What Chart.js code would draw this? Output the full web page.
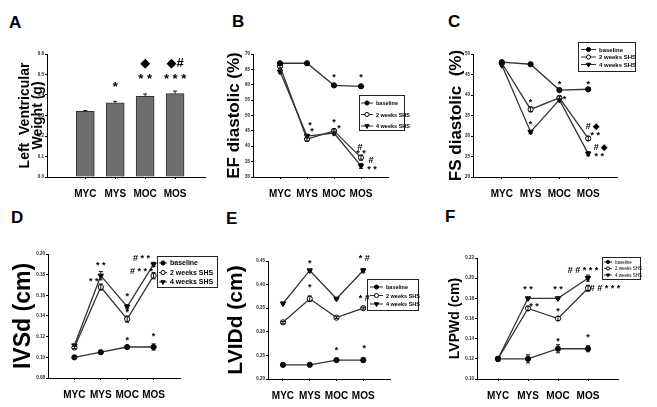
<!DOCTYPE html>
<html>
<head>
<meta charset="utf-8">
<script src="https://cdn.jsdelivr.net/npm/chart.js@4.4.0/dist/chart.umd.min.js"></script>
<style>
  body { margin: 0; background: #fff; width: 657px; height: 407px; position: relative; overflow: hidden;
         font-family: "Liberation Sans", Arial, sans-serif; }
  canvas { position: absolute; }
  .tag { position: absolute; font-weight: bold; font-size: 17px; line-height: 17px; }
</style>
</head>
<body>
<div class="tag" style="left:9px;top:14px">A</div>
<div class="tag" style="left:232px;top:13px">B</div>
<div class="tag" style="left:448px;top:13px">C</div>
<div class="tag" style="left:11px;top:209px">D</div>
<div class="tag" style="left:226px;top:210px">E</div>
<div class="tag" style="left:445px;top:208px">F</div>
<canvas id="cA"></canvas>
<canvas id="cB"></canvas>
<canvas id="cC"></canvas>
<canvas id="cD"></canvas>
<canvas id="cE"></canvas>
<canvas id="cF"></canvas>
<script>
const categories = ['MYC', 'MYS', 'MOC', 'MOS'];
const seriesNames = ['baseline', '2 weeks SHS', '4 weeks SHS'];

// A - left ventricular weight (g)
const lvWeight = [0.32, 0.362, 0.393, 0.407];
const lvWeightErr = [0.004, 0.007, 0.012, 0.012];
const ticksA = ['0.0', '0.1', '0.2', '0.3', '0.4', '0.5', '0.6'];
const notesA = [['*', 1, 0.435, 0], ['* *', 2, 0.474, 0], ['\u25C6', 2, 0.556, 0],
                ['* * *', 3, 0.474, 0], ['\u25C6#', 3, 0.556, 0]];

// B - EF diastolic (%)
const efBase = [67, 67, 59.8, 59.5];
const ef2wk = [66, 42.3, 45, 36.3];
const ef4wk = [64.3, 43.3, 44.3, 33.6];
const efBaseErr = [0.4, 0.3, 0.6, 0.5];
const ef2wkErr = [0.5, 0.6, 0.6, 0.8];
const ef4wkErr = [0.5, 0.6, 0.6, 0.8];
const ticksB = ['30', '35', '40', '45', '50', '55', '60', '65', '70'];
const notesB = [['*', 2, 62.2, 0], ['*', 3, 62.2, 0], ['*', 1, 46.6, 3], ['*', 1, 44.7, 5],
                ['*', 2, 47.7, 0], ['*', 2, 45.8, 5], ['#', 3, 39.5, -1], ['* *', 3, 37.7, 0],
                ['#', 3, 35.2, 10], ['* *', 3, 32.3, 11]];

// C - FS diastolic (%)
const fsBase = [48, 47.5, 41.2, 41.4];
const fs2wk = [47.8, 36.5, 39.3, 29.4];
const fs4wk = [47.3, 31, 38.8, 25.7];
const fsBaseErr = [0.3, 0.3, 0.4, 0.4];
const fs2wkErr = [0.3, 0.6, 0.4, 0.5];
const fs4wkErr = [0.3, 0.4, 0.4, 0.5];
const ticksC = ['20', '25', '30', '35', '40', '45', '50'];
const notesC = [['*', 1, 38.2, 0], ['*', 1, 32.8, 0], ['*', 2, 42.6, 0], ['*', 2, 38.8, 5],
                ['*', 3, 42.6, 0], ['#', 3, 32.3, 0], ['\u25C6', 3, 32.3, 8], ['* *', 3, 30.2, 7],
                ['#', 3, 27.1, 8], ['\u25C6', 3, 27.1, 16], ['* *', 3, 25, 11]];

// D - IVSd (cm)
const ivsBase = [0.100, 0.105, 0.110, 0.110];
const ivs2wk = [0.1095, 0.168, 0.137, 0.179];
const ivs4wk = [0.1115, 0.179, 0.149, 0.190];
const ivsBaseErr = [0.0005, 0.001, 0.0005, 0.003];
const ivs2wkErr = [0.001, 0.003, 0.003, 0.003];
const ivs4wkErr = [0.001, 0.004, 0.002, 0.002];
const ticksD = ['0.08', '0.10', '0.12', '0.14', '0.16', '0.18', '0.20'];
const notesD = [['* *', 1, 0.189, 0], ['* *', 1, 0.1735, -7], ['*', 2, 0.159, 0], ['*', 2, 0.143, 0],
                ['*', 2, 0.1165, 0], ['*', 3, 0.1203, 0], ['# * *', 3, 0.1955, -12],
                ['# * * *', 3, 0.183, -12]];

// E - LVIDd (cm)
const lvidBase = [0.23, 0.23, 0.24, 0.24];
const lvid2wk = [0.32, 0.37, 0.33, 0.35];
const lvid4wk = [0.36, 0.43, 0.37, 0.43];
const lvidBaseErr = [0.003, 0.002, 0.002, 0.005];
const lvid2wkErr = [0.002, 0.006, 0.002, 0.002];
const lvid4wkErr = [0.002, 0.003, 0.002, 0.004];
const ticksE = ['0.20', '0.25', '0.30', '0.35', '0.40', '0.45'];
const notesE = [['*', 1, 0.4445, 0], ['*', 1, 0.393, 0], ['* #', 3, 0.455, 1], ['* #', 3, 0.371, 1],
                ['*', 2, 0.26, 0], ['*', 3, 0.265, 1]];

// F - LVPWd (cm)
const lvpwBase = [0.12, 0.12, 0.13, 0.13];
const lvpw2wk = [0.12, 0.17, 0.16, 0.19];
const lvpw4wk = [0.12, 0.18, 0.18, 0.20];
const lvpwBaseErr = [0.002, 0.004, 0.004, 0.003];
const lvpw2wkErr = [0.002, 0.002, 0.002, 0.003];
const lvpw4wkErr = [0.001, 0.001, 0.001, 0.003];
const ticksF = ['0.10', '0.12', '0.14', '0.16', '0.18', '0.20', '0.22'];
const notesF = [['* *', 1, 0.1888, 0], ['* *', 2, 0.1888, 0], ['* *', 1, 0.172, 6], ['*', 2, 0.1667, 0],
                ['*', 2, 0.137, 0], ['*', 3, 0.141, 0], ['# # * * *', 3, 0.2072, -5],
                ['# # * * *', 3, 0.1898, 17]];

Chart.defaults.font.family = '"Liberation Sans", Arial, sans-serif';
Chart.defaults.color = '#000';

const markers = [
  { style: 'circle', fill: '#000', rot: 0, r: 2.6 },
  { style: 'circle', fill: '#fff', rot: 0, r: 2.6 },
  { style: 'triangle', fill: '#000', rot: 180, r: 3.1 }
];

// error bars, significance marks and the boxed legend
const extras = {
  id: 'extras',
  afterDatasetsDraw(chart, args, opts) {
    const ctx = chart.ctx, xs = chart.scales.x, ys = chart.scales.y;
    ctx.save();
    ctx.strokeStyle = '#111';
    ctx.lineWidth = 1;
    chart.data.datasets.forEach(ds => {
      if (!ds.errors) return;
      ds.data.forEach((p, i) => {
        const e = ds.errors[i];
        if (!e) return;
        const x = xs.getPixelForValue(p.x);
        const y0 = ys.getPixelForValue(p.y - (ds.type === 'bar' ? 0 : e));
        const y1 = ys.getPixelForValue(p.y + e);
        ctx.beginPath();
        ctx.moveTo(x, y0); ctx.lineTo(x, y1);
        ctx.moveTo(x - 2, y1); ctx.lineTo(x + 2, y1);
        if (ds.type !== 'bar') { ctx.moveTo(x - 2, y0); ctx.lineTo(x + 2, y0); }
        ctx.stroke();
      });
    });
    ctx.restore();
  },
  afterDraw(chart, args, opts) {
    const ctx = chart.ctx, xs = chart.scales.x, ys = chart.scales.y;
    ctx.save();
    ctx.fillStyle = '#000';
    ctx.textAlign = 'center';
    ctx.textBaseline = 'middle';
    ctx.font = opts.noteFont;
    (opts.notes || []).forEach(([t, i, v, dx]) => {
      ctx.fillText(t, xs.getPixelForValue(i) + dx, ys.getPixelForValue(v));
    });
    const L = opts.legend;
    if (L) {
      const bx = L.x - opts.origin[0], by = L.y - opts.origin[1];
      ctx.strokeStyle = '#222';
      ctx.lineWidth = 1;
      ctx.strokeRect(Math.round(bx) + 0.5, Math.round(by) + 0.5, L.w, L.h);
      ctx.textAlign = 'left';
      ctx.font = L.font;
      chart.data.datasets.forEach((ds, k) => {
        const y = by + L.row0 + k * L.gap;
        const sx = bx + L.pad;
        ctx.strokeStyle = '#333';
        ctx.beginPath();
        ctx.moveTo(sx, y); ctx.lineTo(sx + L.sample, y);
        ctx.stroke();
        ctx.fillStyle = ds.pointBackgroundColor;
        ctx.strokeStyle = '#000';
        Chart.helpers.drawPoint(ctx, { pointStyle: ds.pointStyle, rotation: ds.pointRotation,
                                       radius: ds.pointRadius * L.scale, borderWidth: 1 }, sx + L.sample / 2, y);
        ctx.fillStyle = '#000';
        ctx.fillText(ds.label, sx + L.sample + 3, y + 0.5);
      });
    }
    ctx.restore();
  }
};

function lineSets(series, errors) {
  return series.map((vals, k) => ({
    type: 'line',
    label: seriesNames[k],
    data: vals.map((y, i) => ({ x: i, y: y })),
    errors: errors[k],
    borderColor: '#333',
    borderWidth: 1.3,
    pointStyle: markers[k].style,
    pointRotation: markers[k].rot,
    pointRadius: markers[k].r,
    pointBackgroundColor: markers[k].fill,
    pointBorderColor: '#000',
    pointBorderWidth: 1
  }));
}

function panel(id, box, area, xMin, tickLabels, title, datasets, extra) {
  const canvas = document.getElementById(id);
  canvas.width = box.w;
  canvas.height = box.h;
  canvas.style.left = box.x + 'px';
  canvas.style.top = box.y + 'px';
  const tickVals = tickLabels.map(parseFloat);
  extra.origin = [box.x, box.y];

  return new Chart(canvas.getContext('2d'), {
    data: { datasets: datasets },
    plugins: [extras],
    options: {
      responsive: false,
      animation: false,
      layout: { padding: { top: area.top - box.y, right: box.x + box.w - area.right, left: 0, bottom: 0 } },
      plugins: { legend: { display: false }, tooltip: { enabled: false }, extras: extra },
      scales: {
        x: {
          type: 'linear',
          offset: false,
          min: xMin,
          max: 4,
          afterBuildTicks: (s) => { s.ticks = categories.map((c, i) => ({ value: i })); },
          afterFit: (s) => { s.height = box.y + box.h - area.bottom; },
          ticks: { callback: (v) => categories[v], font: { size: 10, weight: 'bold' }, padding: 9, maxRotation: 0 },
          grid: { drawOnChartArea: false, tickLength: 2, color: '#000', offset: false },
          border: { color: '#000', width: 1 }
        },
        y: {
          type: 'linear',
          min: tickVals[0],
          max: tickVals[tickVals.length - 1],
          afterBuildTicks: (s) => { s.ticks = tickVals.map(v => ({ value: v })); },
          afterFit: (s) => { s.width = area.left - box.x; },
          ticks: { callback: (v, i) => tickLabels[i], font: { size: 4.5, weight: 'bold' }, padding: 1, color: '#222' },
          grid: { drawOnChartArea: false, tickLength: 2, color: '#000' },
          border: { color: '#000', width: 1 },
          title: { display: true, text: title.text, font: title.font, padding: { top: title.pad, bottom: 0 } }
        }
      }
    }
  });
}

// A
panel('cA', { x: 0, y: 40, w: 215, h: 165 }, { left: 47, top: 54, right: 205, bottom: 177 }, -1.28, ticksA,
  { text: ['Left  Ventricular', 'Weight (g)'], font: { size: 14, weight: 'bold', lineHeight: 0.9 }, pad: 19.2 },
  [{
    type: 'bar',
    label: 'Left Ventricular Weight',
    data: lvWeight.map((y, i) => ({ x: i, y: y })),
    errors: lvWeightErr,
    backgroundColor: '#6e6e6e',
    borderColor: '#333',
    borderWidth: 1,
    barThickness: 18
  }],
  { notes: notesA, noteFont: 'bold 13px "Liberation Sans", "DejaVu Sans", sans-serif' });

// B
panel('cB', { x: 215, y: 40, w: 215, h: 165 }, { left: 253, top: 54, right: 388, bottom: 177 }, -1, ticksB,
  { text: 'EF diastolic (%)', font: { size: 17, weight: 'bold' }, pad: 9.3 },
  lineSets([efBase, ef2wk, ef4wk], [efBaseErr, ef2wkErr, ef4wkErr]),
  { notes: notesB, noteFont: 'bold 9px "Liberation Sans", sans-serif',
    legend: { x: 359, y: 95, w: 45, h: 35, row0: 8, gap: 11.5, pad: 2, sample: 12, scale: 0.8,
              font: 'bold 5.5px "Liberation Sans", sans-serif' } });

// C
panel('cC', { x: 435, y: 40, w: 222, h: 165 }, { left: 473, top: 54, right: 617, bottom: 177 }, -1, ticksC,
  { text: 'FS diastolic  (%)', font: { size: 17, weight: 'bold' }, pad: 10.8 },
  lineSets([fsBase, fs2wk, fs4wk], [fsBaseErr, fs2wkErr, fs4wkErr]),
  { notes: notesC, noteFont: 'bold 9px "Liberation Sans", "DejaVu Sans", sans-serif',
    legend: { x: 578, y: 42, w: 57, h: 29, row0: 7.5, gap: 7.5, pad: 3, sample: 15, scale: 0.8,
              font: 'bold 6px "Liberation Sans", sans-serif' } });

// D
panel('cD', { x: 0, y: 240, w: 220, h: 165 }, { left: 48, top: 254, right: 180, bottom: 378 }, -1, ticksD,
  { text: 'IVSd (cm)', font: { size: 23, weight: 'bold' }, pad: 9.7 },
  lineSets([ivsBase, ivs2wk, ivs4wk], [ivsBaseErr, ivs2wkErr, ivs4wkErr]),
  { notes: notesD, noteFont: 'bold 9px "Liberation Sans", sans-serif',
    legend: { x: 157, y: 256, w: 60, h: 31, row0: 7, gap: 9.5, pad: 2, sample: 8, scale: 0.8,
              font: 'bold 7px "Liberation Sans", sans-serif' } });

// E
panel('cE', { x: 215, y: 240, w: 215, h: 165 }, { left: 268, top: 261, right: 390, bottom: 379 }, -0.56, ticksE,
  { text: 'LVIDd (cm)', font: { size: 21, weight: 'bold' }, pad: 8.9 },
  lineSets([lvidBase, lvid2wk, lvid4wk], [lvidBaseErr, lvid2wkErr, lvid4wkErr]),
  { notes: notesE, noteFont: 'bold 9px "Liberation Sans", sans-serif',
    legend: { x: 367, y: 279, w: 51, h: 31, row0: 8, gap: 8.5, pad: 3, sample: 13, scale: 0.8,
              font: 'bold 5.5px "Liberation Sans", sans-serif' } });

// F
panel('cF', { x: 435, y: 240, w: 222, h: 165 }, { left: 477, top: 258, right: 618, bottom: 379 }, -0.7, ticksF,
  { text: 'LVPWd (cm)', font: { size: 14, weight: 'bold' }, pad: 11.6 },
  lineSets([lvpwBase, lvpw2wk, lvpw4wk], [lvpwBaseErr, lvpw2wkErr, lvpw4wkErr]),
  { notes: notesF, noteFont: 'bold 9px "Liberation Sans", sans-serif',
    legend: { x: 602, y: 257, w: 38, h: 22, row0: 5, gap: 6.5, pad: 2, sample: 8, scale: 0.6,
              font: '4.5px "Liberation Sans", sans-serif' } });
</script>
</body>
</html>
